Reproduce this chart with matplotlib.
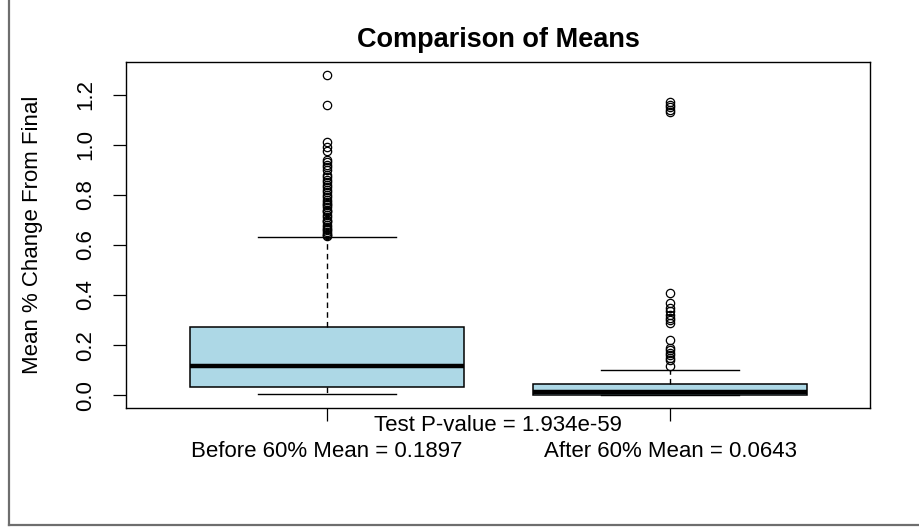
import matplotlib
matplotlib.use("Agg")
from matplotlib import pyplot as plt
from matplotlib.lines import Line2D

plt.rcParams['font.family'] = ['Liberation Sans', 'DejaVu Sans']

# box statistics
groups = ["Before 60%", "After 60%"]
group_means = [0.1897, 0.0643]
p_value = "1.934e-59"

q1 = [0.032, 0.002]
medians = [0.117, 0.014]
q3 = [0.271, 0.044]
whisker_lo = [0.004, 0.0]
whisker_hi = [0.631, 0.101]

outliers_before = [1.28, 1.16, 1.013, 0.99, 0.975, 0.94, 0.93, 0.92, 0.91, 0.90,
                   0.88, 0.87, 0.86, 0.85, 0.84, 0.83, 0.82, 0.81, 0.80, 0.79,
                   0.78, 0.77, 0.765, 0.76, 0.75, 0.74, 0.735, 0.73, 0.72, 0.71,
                   0.70, 0.695, 0.69, 0.68, 0.67, 0.665, 0.66, 0.65, 0.645,
                   0.64, 0.635]
outliers_after = [1.17, 1.16, 1.15, 1.14, 1.13, 0.41, 0.37, 0.35, 0.335, 0.32,
                  0.31, 0.30, 0.29, 0.22, 0.19, 0.18, 0.17, 0.16, 0.15, 0.14,
                  0.115]


def main():
    fig = plt.figure(figsize=(9.2, 5.27), dpi=100)
    ax = fig.add_axes([0.137, 0.2258, 0.8087, 0.6566])

    stats = []
    fliers = [outliers_before, outliers_after]
    for i in range(len(groups)):
        stats.append(dict(med=medians[i], q1=q1[i], q3=q3[i],
                          whislo=whisker_lo[i], whishi=whisker_hi[i],
                          fliers=fliers[i]))

    ax.bxp(stats, positions=[1, 2], widths=0.8, patch_artist=True,
           boxprops=dict(facecolor='#ADD8E6', edgecolor='black', linewidth=1.1),
           medianprops=dict(color='black', linewidth=3.2, solid_capstyle='butt'),
           whiskerprops=dict(color='black', linewidth=1.0, linestyle=(0, (4, 3))),
           capprops=dict(color='black', linewidth=1.0),
           capwidths=0.4,
           flierprops=dict(marker='o', markerfacecolor='none',
                           markeredgecolor='black', markersize=6,
                           markeredgewidth=0.9))

    ax.set_xlim(0.414, 2.583)
    ax.set_ylim(-0.0512, 1.331)
    ax.set_yticks([0.0, 0.2, 0.4, 0.6, 0.8, 1.0, 1.2])
    ax.set_yticklabels(["0.0", "0.2", "0.4", "0.6", "0.8", "1.0", "1.2"],
                       rotation=90, va='center')
    ax.set_xticks([1, 2])
    ax.set_xticklabels(["", ""])
    ax.tick_params(axis='both', direction='out', length=9.5, width=0.9,
                   labelsize=16, pad=12)
    for s in ax.spines.values():
        s.set_linewidth(1.0)

    ax.set_ylabel("Mean % Change From Final", fontsize=16, labelpad=23)
    ax.set_title("Comparison of Means", fontsize=19.5, fontweight='bold', pad=11)

    ax.annotate("Test P-value = " + p_value, xy=(0.5, 0), xycoords='axes fraction',
                xytext=(0, -12.5), textcoords='offset points',
                ha='center', va='center', fontsize=16)
    for i, g in enumerate(groups):
        ax.annotate(g + " Mean = " + format(group_means[i], '.4f'),
                    xy=(i + 1, 0), xycoords=('data', 'axes fraction'),
                    xytext=(0, -31.5), textcoords='offset points',
                    ha='center', va='center', fontsize=16)

    # screenshot frame (left and bottom edge)
    fig.add_artist(Line2D([9 / 920, 9 / 920], [1 - 525 / 527, 1],
                          transform=fig.transFigure, color='#6e6e6e', linewidth=1.6))
    fig.add_artist(Line2D([9 / 920, 1], [1 - 525 / 527, 1 - 525 / 527],
                          transform=fig.transFigure, color='#6e6e6e', linewidth=1.6))

    fig.savefig("out.png", dpi=100)


if __name__ == "__main__":
    main()
